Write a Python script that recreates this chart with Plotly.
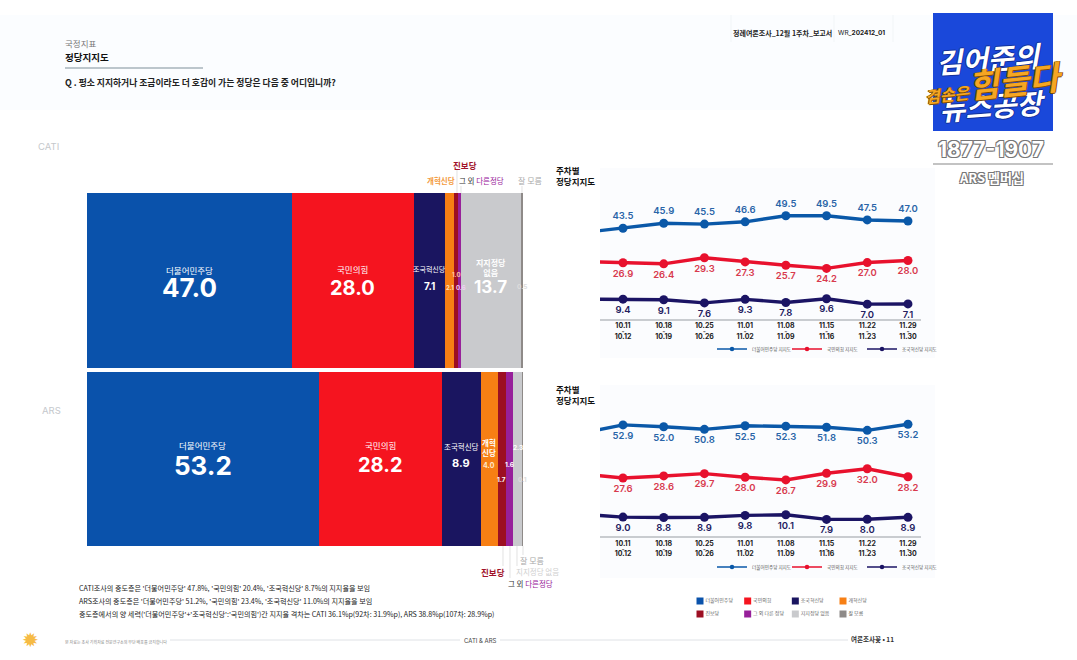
import plotly.graph_objects as go

W, H = 1077, 660
KR = "Noto Sans CJK KR"
NUM = "Inter, Noto Sans CJK KR"

parties = ["더불어민주당", "국민의힘", "조국혁신당", "개혁신당", "진보당", "그 외 다른정당", "지지정당 없음", "잘 모름"]
party_colors = ["#0a52ab", "#f5141f", "#1a1560", "#f77f14", "#9c0f22", "#97209a", "#c9cacd", "#8e8a88"]
cati_share = [47.0, 28.0, 7.1, 2.1, 1.0, 0.6, 13.7, 0.5]
ars_share = [53.2, 28.2, 8.9, 4.0, 1.7, 1.6, 2.3, 0.1]

week_start = ["10.11", "10.18", "10.25", "11.01", "11.08", "11.15", "11.22", "11.29"]
week_end = ["10.12", "10.19", "10.26", "11.02", "11.09", "11.16", "11.23", "11.30"]
line_names = ["더불어민주당 지지도", "국민의힘 지지도", "조국혁신당 지지도"]
line_colors = ["#0a58a8", "#e8112d", "#1b1464"]
text_colors = ["#2a65a8", "#d83a4e", "#23205e"]

cati_dem = [43.5, 45.9, 45.5, 46.6, 49.5, 49.5, 47.5, 47.0]
cati_ppp = [26.9, 26.4, 29.3, 27.3, 25.7, 24.2, 27.0, 28.0]
cati_rebuild = [9.4, 9.1, 7.6, 9.3, 7.8, 9.6, 7.0, 7.1]
ars_dem = [52.9, 52.0, 50.8, 52.5, 52.3, 51.8, 50.3, 53.2]
ars_ppp = [27.6, 28.6, 29.7, 28.0, 26.7, 29.9, 32.0, 28.2]
ars_rebuild = [9.0, 8.8, 8.9, 9.8, 10.1, 7.9, 8.0, 8.9]
# the week before the first label, only its tail shows at the left edge
cati_prev = [41.4, 27.5, 9.4]
ars_prev = [49.0, 29.5, 10.4]

key_names = ["더불어민주당", "국민의힘", "조국혁신당", "개혁신당", "진보당", "그 외 다른 정당", "지지정당 없음", "잘 모름"]

notes = [
    "CATI조사의 중도층은 '더불어민주당' 47.8%, '국민의힘' 20.4%, '조국혁신당' 8.7%의 지지율을 보임",
    "ARS조사의 중도층은 '더불어민주당' 51.2%, '국민의힘' 23.4%, '조국혁신당' 11.0%의 지지율을 보임",
    "중도층에서의 양 세력('더불어민주당'+'조국혁신당':'국민의힘')간 지지율 격차는 CATI 36.1%p(92차: 31.9%p), ARS 38.8%p(107차: 28.9%p)",
]


def fx(px):
    return px / W


def fy(py):
    return 1 - py / H


fig = go.Figure()


def note(text, x, y, size=8, color="#222222", anchor="center", family=KR, **kw):
    # annotations carry a small pad, take it back for left aligned text
    if anchor == "left":
        x -= 2
    fig.add_annotation(xref="paper", yref="paper", x=fx(x), y=fy(y), text=text, showarrow=False, align=anchor,
                       xanchor=anchor, yanchor="middle", font=dict(size=size, color=color, family=family, **kw.pop("font", {})),
                       **kw)


def box(x0, y0, x1, y1, color):
    fig.add_shape(type="rect", xref="paper", yref="paper", x0=fx(x0), x1=fx(x1), y0=fy(y0), y1=fy(y1),
                  fillcolor=color, line_width=0, layer="below")


def rule(x0, y0, x1, y1, color, width=0.7):
    fig.add_shape(type="line", xref="paper", yref="paper", x0=fx(x0), x1=fx(x1), y0=fy(y0), y1=fy(y1),
                  line=dict(color=color, width=width), layer="above")


# pale page panels
box(0, 15, 1077, 110, "#fbfdff")
box(600, 168, 935, 358, "#fbfcfe")
box(600, 385, 935, 578, "#fbfcfe")

# stacked share bars
for suffix, share in (("", cati_share), ("2", ars_share)):
    for name, value, color in zip(parties, share, party_colors):
        fig.add_trace(go.Bar(x=[value], y=[0], orientation="h", name=name, marker=dict(color=color, line_width=0),
                             xaxis="x" + suffix, yaxis="y" + suffix, showlegend=False))


def mid(share, i):
    return sum(share[:i]) + share[i] / 2


def bar_label(axis, share, i, text, y, size, color="white", shift=0, family=KR):
    fig.add_annotation(xref=axis, yref="paper", x=mid(share, i), y=fy(y), xshift=shift, text=text, showarrow=False,
                       yanchor="middle", font=dict(size=size, color=color, family=family))


bar_label("x", cati_share, 0, "더불어민주당", 270, 8.5)
bar_label("x", cati_share, 0, "<b>47.0</b>", 288, 26, family=NUM)
bar_label("x", cati_share, 1, "국민의힘", 269, 8.5)
bar_label("x", cati_share, 1, "<b>28.0</b>", 288, 20, family=NUM)
bar_label("x", cati_share, 2, "조국혁신당", 269, 7)
bar_label("x", cati_share, 2, "<b>7.1</b>", 286, 10, family=NUM)
bar_label("x", cati_share, 3, "<b>2.1</b>", 287, 6, color="#ffe0b8", family=NUM)
bar_label("x", cati_share, 4, "<b>1.0</b>", 274, 6, color="#ffc9a0", family=NUM)
bar_label("x", cati_share, 5, "<b>0.6</b>", 287, 6, color="#f0d0f5", shift=1, family=NUM)
bar_label("x", cati_share, 6, "<b>지지정당<br>없음</b>", 268, 8)
bar_label("x", cati_share, 6, "<b>13.7</b>", 287, 17, family=NUM)
bar_label("x", cati_share, 7, "<b>0.5</b>", 287, 6.5, color="#dddddd", family=NUM)

bar_label("x2", ars_share, 0, "더불어민주당", 445, 8.5)
bar_label("x2", ars_share, 0, "<b>53.2</b>", 465, 26, family=NUM)
bar_label("x2", ars_share, 1, "국민의힘", 445, 8.5)
bar_label("x2", ars_share, 1, "<b>28.2</b>", 465, 20, family=NUM)
bar_label("x2", ars_share, 2, "조국혁신당", 446, 7.5)
bar_label("x2", ars_share, 2, "<b>8.9</b>", 463, 11, family=NUM)
bar_label("x2", ars_share, 3, "<b>개혁<br>신당</b>", 447, 7.5)
bar_label("x2", ars_share, 3, "<b>4.0</b>", 465, 7, color="#ffe8c8", family=NUM)
bar_label("x2", ars_share, 4, "<b>1.7</b>", 480, 6.5, family=NUM)
bar_label("x2", ars_share, 5, "<b>1.6</b>", 465, 6.5, family=NUM)
bar_label("x2", ars_share, 6, "<b>2.3</b>", 448, 6.5, family=NUM)
bar_label("x2", ars_share, 7, "<b>0.1</b>", 480, 6.5, color="#dddddd", family=NUM)

# party names outside the bars
PURPLE_LABEL = '그 외 <span style="color:#97209a">다른정당</span>'
note("<b>진보당</b>", 465, 165, 8.5, "#a1122b")
note("<b>개혁신당</b>", 441, 180, 7.5, "#f39a3c")
note(PURPLE_LABEL, 481, 180, 7.5, "#333333")
note("잘 모름", 530, 180, 8, "#a9a9a9")
rule(457, 170, 457, 193, "#d5d5d5")
rule(461, 186, 461, 193, "#d5d5d5")
rule(522, 186, 522, 193, "#d5d5d5")

note("잘 모름", 532, 560, 8, "#a9a9a9")
note("지지정당 없음", 537, 571, 7.5, "#cfcfcf")
note("<b>진보당</b>", 493, 572, 8.5, "#a1122b")
note(PURPLE_LABEL, 530, 583, 7.5, "#333333")
rule(503, 546, 503, 566, "#d5d5d5")
rule(510, 546, 510, 578, "#d5d5d5")
rule(517, 546, 517, 566, "#d5d5d5")
rule(523, 546, 523, 555, "#d5d5d5")

# weekly trend lines
panels = [
    ("x3", "y3", "legend2", [cati_dem, cati_ppp, cati_rebuild], cati_prev, ["top center", "bottom center", "bottom center"]),
    ("x4", "y4", "legend3", [ars_dem, ars_ppp, ars_rebuild], ars_prev, ["bottom center"] * 3),
]
for xa, ya, leg, series, prev, positions in panels:
    for values, before, name, color, tcolor, pos in zip(series, prev, line_names, line_colors, text_colors, positions):
        fig.add_trace(go.Scatter(x=list(range(-1, len(values))), y=[before] + values, mode="lines+markers+text",
                                 text=[""] + [f"{v:.1f}" for v in values], textposition=pos,
                                 textfont=dict(size=9.5, color=tcolor, family=NUM, weight=600),
                                 line=dict(color=color, width=3.4), marker=dict(color=color, size=9),
                                 xaxis=xa, yaxis=ya, showlegend=False))
        # thin sample for the small legend under each panel
        fig.add_trace(go.Scatter(x=[None], y=[None], mode="lines+markers", name=name,
                                 line=dict(color=color, width=1.4), marker=dict(color=color, size=4.5),
                                 xaxis=xa, yaxis=ya, legend=leg))

# small base font keeps the three lines tight, the dates are sized up inside
date_span = '<span style="font-size:7px"><b>{}</b></span>'
tick_text = [date_span.format(a) + "<br>~<br>" + date_span.format(b) for a, b in zip(week_start, week_end)]

# colour key at the bottom right
key_x = [0, 1, 2, 3, 0, 1, 2, 3]
key_y = [1, 1, 1, 1, 0, 0, 0, 0]
fig.add_trace(go.Scatter(x=key_x, y=key_y, mode="markers+text", text=key_names, textposition="middle right",
                         textfont=dict(size=5, color="#666666", family=KR), cliponaxis=False,
                         marker=dict(symbol="square", size=7, color=party_colors),
                         xaxis="x5", yaxis="y5", showlegend=False))

# header
note("국정지표", 65, 43, 8.5, "#777777", anchor="left")
note("<b>정당지지도</b>", 65, 57, 9.5, "#111111", anchor="left")
rule(65, 68, 203, 68, "#bcc6cc", 2)
note("<b>Q . 평소 지지하거나 조금이라도 더 호감이 가는 정당은 다음 중 어디입니까?</b>", 65, 83, 8.8, "#222222", anchor="left")
note("<b>정례여론조사_12월 1주차_보고서</b>", 733, 33, 7, "#222222", anchor="left")
note("WR_<b>202412_01</b>", 838, 33, 6.5, "#222222", anchor="left", family=NUM)
rule(731, 15, 731, 42, "#eef0f3")
rule(834, 15, 834, 42, "#eef0f3")
rule(893, 15, 893, 42, "#eef0f3")

note("CATI", 38, 147, 9.5, "#c5c8cc", anchor="left", family=NUM)
note("ARS", 42, 410, 9.5, "#c5c8cc", anchor="left", family=NUM)
note("<b>주차별<br>정당지지도</b>", 556, 176, 8.5, "#111111", anchor="left")
note("<b>주차별<br>정당지지도</b>", 556, 394, 8.5, "#111111", anchor="left")

for line, y in zip(notes, (588, 601, 614)):
    note(line, 79, y, 7.1, "#222222", anchor="left")

# footer
note("✹", 30, 640, 20, "#f6bb45", family="DejaVu Sans")
note("본 자료는 조사 기획자료 전문연구소의 무단 배포를 금지합니다", 65, 642, 4, "#888888", anchor="left")
rule(170, 640, 460, 640, "#dfe2e6", 1)
note("CATI & ARS", 480, 640, 6, "#444444", family=NUM)
rule(500, 640, 848, 640, "#dfe2e6", 1)
note("<b>여론조사꽃 • 11</b>", 872, 639, 6.5, "#333333")

# logo
box(933, 13, 1053, 131, "#1a48da")
white_edge = "-1px 0 #12309a, 1px 0 #12309a, 0 -1px #12309a, 0 1px #12309a"
grey_edge = "-1px -1px 0 #777777, 1px -1px 0 #777777, -1px 1px 0 #777777, 1px 1px 0 #777777"
note("<b><i>김어준의</i></b>", 989, 58, 28, "white", textangle=-4, font=dict(shadow=white_edge))
note("<b><i>뉴스공장</i></b>", 992, 105, 28, "white", textangle=-4, font=dict(shadow=white_edge))
note('<b><i><span style="font-size:16px">겸손은</span>힘들다</i></b>', 993, 82, 33, "#f5a623", textangle=-6,
     font=dict(shadow="-1px 0 #7a4b00, 1px 0 #7a4b00, 0 1px #7a4b00"))
note("<b>1877-1907</b>", 991, 149, 21, "white", family=NUM, font=dict(shadow=grey_edge))
rule(933, 164, 1053, 164, "#888888", 1.2)
note("<b>ARS 멤버십</b>", 991, 177, 13, "white", font=dict(shadow=grey_edge))


def small_legend(y):
    return dict(orientation="h", x=fx(712), y=fy(y), xanchor="left", yanchor="middle", bgcolor="rgba(0,0,0,0)",
                entrywidth=30, entrywidthmode="pixels", itemclick=False, itemdoubleclick=False,
                font=dict(size=4.6, color="#555555", family=KR))


hidden = dict(visible=False, fixedrange=True)
line_x = dict(tickmode="array", tickvals=list(range(8)), ticktext=tick_text, range=[-0.565, 7.32], showgrid=False,
              zeroline=False, showline=True, linecolor="#c9ccd0", linewidth=1.5, ticks="", ticklabelstandoff=3,
              tickfont=dict(size=4, color="#222222", family=NUM), tickangle=0)
line_y = dict(visible=False, showgrid=False, zeroline=False)

fig.update_layout(
    width=W, height=H, autosize=False, margin=dict(l=0, r=0, t=0, b=0, pad=0),
    paper_bgcolor="white", plot_bgcolor="rgba(0,0,0,0)", barmode="stack", bargap=0,
    font=dict(family=KR),
    xaxis=dict(domain=[fx(87), fx(523)], range=[0, 100], anchor="y", **hidden),
    yaxis=dict(domain=[fy(368), fy(193)], range=[-0.5, 0.5], anchor="x", **hidden),
    xaxis2=dict(domain=[fx(87), fx(523)], range=[0, 100], anchor="y2", **hidden),
    yaxis2=dict(domain=[fy(546), fy(372)], range=[-0.5, 0.5], anchor="x2", **hidden),
    xaxis3=dict(domain=[fx(600), fx(921)], anchor="y3", **line_x),
    yaxis3=dict(domain=[fy(318.7), fy(190)], range=[0, 61.9], anchor="x3", **line_y),
    xaxis4=dict(domain=[fx(600), fx(921)], anchor="y4", **line_x),
    yaxis4=dict(domain=[fy(536), fy(410)], range=[0, 60], anchor="x4", **line_y),
    xaxis5=dict(domain=[fx(700), fx(843)], range=[0, 3], anchor="y5", **hidden),
    yaxis5=dict(domain=[fy(614), fy(601)], range=[0, 1], anchor="x5", **hidden),
    legend2=small_legend(349),
    legend3=small_legend(567),
)

fig.write_html("out.html", config=dict(displayModeBar=False),
               post_script="document.body.style.margin='0';document.body.style.overflow='hidden';")
